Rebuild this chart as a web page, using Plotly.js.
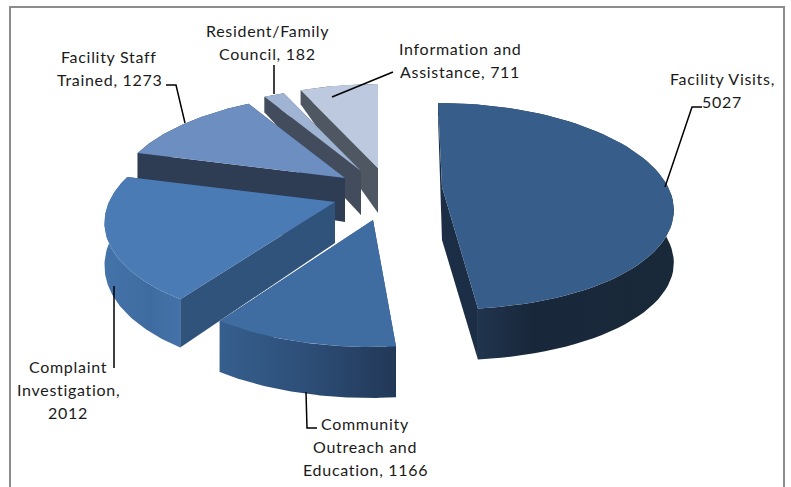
<!DOCTYPE html>
<html>
<head>
<meta charset="utf-8">
<script src="https://cdn.plot.ly/plotly-3.0.1.min.js"></script>
<style>html,body{margin:0;padding:0;background:#fff;overflow:hidden}
text.annotation-text{letter-spacing:0.7px}</style>
</head>
<body>
<div id="chart" style="width:791px;height:487px"></div>
<script>
// Data
const categories = ["Facility Visits","Community Outreach and Education","Complaint Investigation","Facility Staff Trained","Resident/Family Council","Information and Assistance"];
const values = [5027,1166,2012,1273,182,711];
// Word counts at which each data label wraps
const labelWraps = [[2],[1,3],[1,2],[2],[1],[2]];

// Colours
const topColors = ["#375e8a","#3f6da1","#4a7bb4","#6c8ec0","#9fb3d3","#bcc9de"];
const radialColors = ["#1c2e45","#2f5178","#30537c","#2e3d54","#424c5c","#4f5762"];
const rimGradients = [
  [[0,"#273e5c"],[0.4,"#18273a"],[1,"#192939"]],
  [[0,"#365f8e"],[0.5,"#2d4e77"],[1,"#223857"]],
  [[0,"#4473aa"],[0.6,"#3f6ca0"],[1,"#4472a8"]],
  [[0,"#2e3d54"],[1,"#2e3d54"]],
  [[0,"#424c5c"],[1,"#424c5c"]],
  [[0,"#4f5762"],[1,"#4f5762"]]
];

// View geometry of the tilted, exploded pie (pixels)
const apexes = [[442,187],[373,220],[335,202],[345,178],[361,171],[378,168]];
const depths = [[53,51],[51,51],[41,50],[44,44],[44,44],[45,45]];
const shears = [[7,3,1],[-3,0,1.04],[0,-6,1],[0,0,1],[0,0,1],[0,0,1]];
const A=226,P=0.2,B=103,Q=0.185;

const total = values.reduce((a,b)=>a+b,0);
function project(i,theta,r){
  const u=Math.sin(theta)*r, v=-Math.cos(theta)*r;
  const [s,t,ys]=shears[i];
  return {x:apexes[i][0]+A*u*(1+P*v)+s*v+t*v*v, y:apexes[i][1]+ys*B*v*(1+Q*v), v};
}
function drop(i,v){
  const [d0,d1]=depths[i];
  return v>=0 ? d0+(d1-d0)*v : d0*(1+0.75*v);
}
function poly(xs,ys,color,grad){
  const t={type:"scatter",mode:"lines",x:xs,y:ys,fill:"toself",line:{width:0,color:"rgba(0,0,0,0)"},hoverinfo:"skip",showlegend:false,fillcolor:color};
  if(grad){t.fillgradient={type:"horizontal",colorscale:grad};}
  return t;
}

// Angles follow the values, clockwise from 12 o'clock
let cum=0;
const spans=values.map(val=>{const s=cum/total*2*Math.PI;cum+=val;return [s,cum/total*2*Math.PI];});

const traces=[];
// Painter order: back slices first
[5,4,3,2,1,0].forEach(i=>{
  const [a0,a1]=spans[i];
  const arc=[];
  for(let k=0;k<=70;k++){arc.push(project(i,a0+(a1-a0)*k/70,1));}
  const apex=project(i,0,0);
  const d0=drop(i,0);
  const radial=(p)=>poly([apex.x,p.x,p.x,apex.x,apex.x],[apex.y,p.y,p.y+drop(i,p.v),apex.y+d0,apex.y],radialColors[i]);
  // Radial walls
  traces.push(radial(arc[0]));
  traces.push(radial(arc[arc.length-1]));
  // Rim wall
  const rx=arc.map(p=>p.x).concat(arc.slice().reverse().map(p=>p.x));
  const ry=arc.map(p=>p.y).concat(arc.slice().reverse().map(p=>p.y+drop(i,p.v)));
  rx.push(rx[0]);ry.push(ry[0]);
  traces.push(poly(rx,ry,radialColors[i],rimGradients[i]));
  // Top face
  const tx=[apex.x].concat(arc.map(p=>p.x),[apex.x]);
  const ty=[apex.y].concat(arc.map(p=>p.y),[apex.y]);
  traces.push(poly(tx,ty,topColors[i]));
});

// Label placement: centre x and first-line y, pixels
const labelX=[722,365,68,109,267,460];
const labelY=[78,423,366,56,30,48];
const lineGap=23;
const annotations=[];
categories.forEach((c,i)=>{
  const words=(c+", "+values[i]).split(" ");
  const breaks=labelWraps[i].concat([words.length]);
  let from=0;
  breaks.forEach((b,n)=>{
    annotations.push({x:labelX[i],y:labelY[i]+n*lineGap,xref:"x",yref:"y",xanchor:"center",yanchor:"middle",showarrow:false,
      text:words.slice(from,b).join(" "),font:{family:"Lato, Carlito, sans-serif",size:16,color:"#1a1a1a"}});
    from=b;
  });
});

// Leader lines
const leaders=[
  "M665,187 L692,107 L702,107",
  "M306,392 L307,428 L317,428",
  "M114,286 L114,368",
  "M185,123 L176,85 L166,85",
  "M274,94 L274,65",
  "M332,97 L393,72"
];
const shapes=leaders.map(p=>({type:"path",path:p,xref:"x",yref:"y",line:{color:"#000",width:1.5},layer:"above"}));
shapes.push({type:"rect",xref:"x",yref:"y",x0:10,x1:784,y0:7,y1:520,line:{color:"#8c8c8c",width:2},layer:"below"});

const axis={visible:false,showgrid:false,zeroline:false,fixedrange:true};
Plotly.newPlot("chart",traces,{
  width:791,height:487,margin:{l:0,r:0,t:0,b:0,pad:0},
  paper_bgcolor:"#fff",plot_bgcolor:"#fff",showlegend:false,hovermode:false,
  xaxis:Object.assign({range:[0,791]},axis),
  yaxis:Object.assign({range:[487,0]},axis),
  annotations,shapes
},{displayModeBar:false,staticPlot:true});
</script>
</body>
</html>
